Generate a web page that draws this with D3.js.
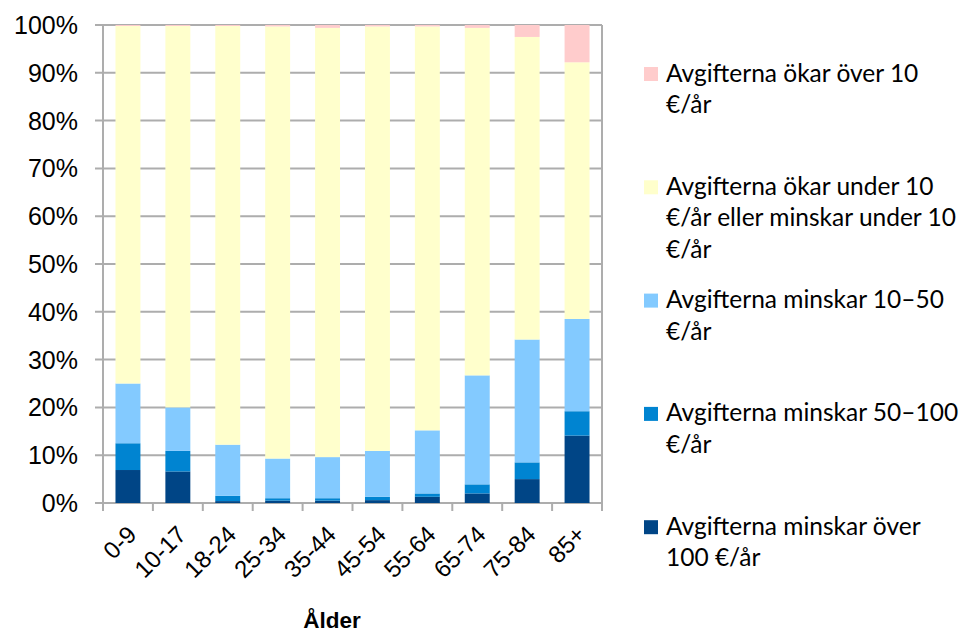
<!DOCTYPE html>
<html><head><meta charset="utf-8">
<script src="https://cdn.jsdelivr.net/npm/d3@7"></script>
<style>body{margin:0;background:#fff}svg{display:block}</style>
</head><body><svg id="c" width="969" height="632"></svg>
<script>
const categories = ["0-9","10-17","18-24","25-34","35-44","45-54","55-64","65-74","75-84","85+"];
const seriesNames = [
  "Avgifterna minskar över 100 €/år",
  "Avgifterna minskar 50–100 €/år",
  "Avgifterna minskar 10–50 €/år",
  "Avgifterna ökar under 10 €/år eller minskar under 10 €/år",
  "Avgifterna ökar över 10 €/år"
];
const legendLines = [
  ["Avgifterna minskar över", "100 €/år"],
  ["Avgifterna minskar 50–100", "€/år"],
  ["Avgifterna minskar 10–50", "€/år"],
  ["Avgifterna ökar under 10", "€/år eller minskar under 10", "€/år"],
  ["Avgifterna ökar över 10", "€/år"]
];
const minskarOver100 = [6.9, 6.6, 0.4, 0.5, 0.5, 0.6, 1.3, 2.0, 5.0, 14.1];
const minskar50_100 = [5.6, 4.3, 1.1, 0.5, 0.5, 0.7, 0.7, 1.9, 3.5, 5.1];
const minskar10_50 = [12.5, 9.1, 10.7, 8.3, 8.6, 9.6, 13.2, 22.8, 25.7, 19.3];
const underTio = [74.8, 79.8, 87.6, 90.4, 89.8, 88.8, 84.5, 72.7, 63.3, 53.7];
const okarOver10 = [0.2, 0.2, 0.2, 0.3, 0.6, 0.3, 0.3, 0.6, 2.5, 7.8];
const yTicks = [0,10,20,30,40,50,60,70,80,90,100];
const xTitle = "Ålder";
const colors = ["#004586","#0084D1","#83CAFF","#FFFFCC","#FFCCCC"];

const seriesValues = [minskarOver100, minskar50_100, minskar10_50, underTio, okarOver10];
const rows = categories.map((c,i)=>{const r={cat:c}; seriesNames.forEach((s,k)=>r[s]=seriesValues[k][i]); return r;});
const stacked = d3.stack().keys(seriesNames)(rows);

const svg = d3.select("#c");
const L=103, R=602, T=25, B=503;
const x = d3.scaleBand().domain(categories).range([L,R]).paddingInner(0.5).paddingOuter(0.25);
const y = d3.scaleLinear().domain([0,100]).range([B,T]);
const grid="#ADADAD";

// gridlines
svg.append("g").selectAll("line").data(yTicks).join("line")
  .attr("x1",L-8).attr("x2",R).attr("y1",d=>y(d)).attr("y2",d=>y(d))
  .attr("stroke",grid).attr("stroke-width",2);
// right border
svg.append("line").attr("x1",R).attr("x2",R).attr("y1",T).attr("y2",B).attr("stroke",grid).attr("stroke-width",2);

// bars
svg.append("g").selectAll("g").data(stacked).join("g").attr("fill",(d,i)=>colors[i])
  .selectAll("rect").data(d=>d).join("rect")
  .attr("x",d=>x(d.data.cat)).attr("width",x.bandwidth())
  .attr("y",d=>y(d[1])).attr("height",d=>y(d[0])-y(d[1]));

// y axis
svg.append("line").attr("x1",L).attr("x2",L).attr("y1",T).attr("y2",B+8).attr("stroke",grid).attr("stroke-width",2);
svg.append("g").selectAll("text").data(yTicks).join("text")
  .attr("x",78).attr("y",d=>y(d)).attr("dy","0.36em").attr("text-anchor","end")
  .attr("font-family","Liberation Sans, Arial, sans-serif").attr("font-size",25).attr("fill","#000")
  .text(d=>d+"%");

// x axis ticks at boundaries
const bounds = d3.range(categories.length+1).map(i=>L+i*(R-L)/categories.length);
svg.append("g").selectAll("line").data(bounds).join("line")
  .attr("x1",d=>d).attr("x2",d=>d).attr("y1",B).attr("y2",B+8).attr("stroke",grid).attr("stroke-width",2);
svg.append("g").selectAll("text").data(categories).join("text")
  .attr("transform",d=>`translate(${x(d)+x.bandwidth()/2+4},${B+27}) rotate(-45)`)
  .attr("text-anchor","end").attr("dy","0.35em")
  .attr("font-family","Liberation Sans, Arial, sans-serif").attr("font-size",24).attr("fill","#000")
  .text(d=>d);
svg.append("text").attr("x",332).attr("y",628).attr("text-anchor","middle")
  .attr("font-family","Liberation Sans, Arial, sans-serif").attr("font-weight","bold").attr("font-size",22.5)
  .text(xTitle);

// legend (top = last series)
const legOrder = [4,3,2,1,0];
const lg = svg.append("g");
legOrder.forEach((k,j)=>{
  const gy = 73 + j*113.3;
  const g = lg.append("g").attr("transform",`translate(644,${gy})`);
  g.append("rect").attr("x",0).attr("y",-6).attr("width",14).attr("height",14).attr("fill",colors[k]);
  g.selectAll("text").data(legendLines[k]).join("text")
    .attr("x",22).attr("y",(d,i)=>i*31.5).attr("dy","0.35em")
    .attr("font-family","Lato, sans-serif").attr("font-size",24.5).attr("fill","#000")
    .text(d=>d);
});
</script></body></html>
